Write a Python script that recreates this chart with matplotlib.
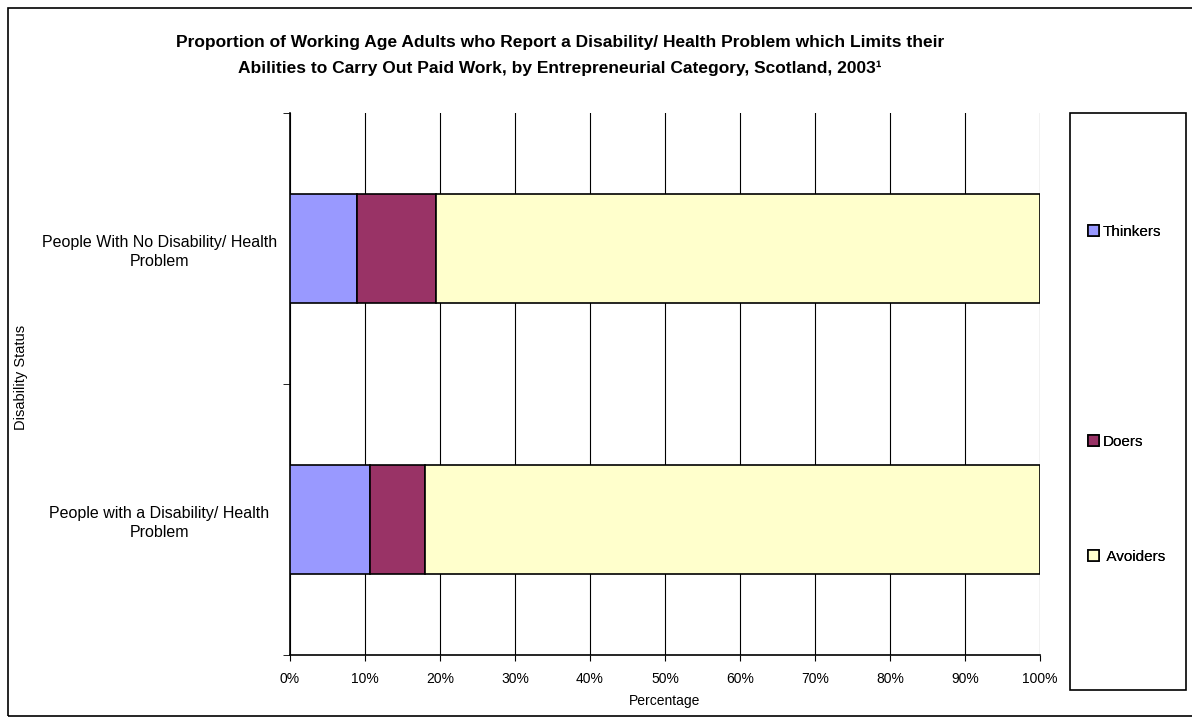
import numpy as np
import matplotlib.pyplot as plt
from matplotlib.patches import Rectangle

plt.rcParams['font.family'] = ['Liberation Sans', 'DejaVu Sans']

# data
categories = ["People With No Disability/ Health\nProblem",
              "People with a Disability/ Health\nProblem"]
series = ["Thinkers", "Doers", "Avoiders"]
thinkers = [8.9, 10.6]
doers = [10.5, 7.4]
avoiders = [80.6, 82.0]
colors = ["#9999FF", "#993366", "#FFFFCC"]

W, H = 1192, 724
fig = plt.figure(figsize=(W / 100, H / 100), dpi=100)

# outer chart border
fig.patches.append(Rectangle((8 / W, 1 - 716 / H), 1.2, (716 - 8) / H,
                             transform=fig.transFigure, fill=False,
                             edgecolor="black", linewidth=1.2))

ax = fig.add_axes([290 / W, 1 - 655 / H, 750 / W, 542 / H])

y = np.arange(len(categories))
left = np.zeros(len(categories))
handles = []
for vals, name, col in zip([thinkers, doers, avoiders], series, colors):
    b = ax.barh(y, vals, left=left, height=0.4, color=col,
                edgecolor="black", linewidth=1.2, label=name, zorder=3)
    handles.append(b)
    left = left + np.array(vals)

ax.set_xlim(0, 100)
ax.set_ylim(1.5, -0.5)
ax.set_xticks(np.arange(0, 101, 10))
ax.set_xticklabels([f"{v}%" for v in range(0, 101, 10)], fontsize=10)
ax.set_yticks(y)
ax.set_yticklabels(categories, fontsize=11.5, ha="center", linespacing=1.35)
ax.tick_params(axis="y", length=0, pad=94)
ax.set_yticks([-0.5, 0.5, 1.5], minor=True)
ax.tick_params(axis="y", which="minor", length=5, direction="out")
ax.tick_params(axis="x", length=4, direction="out", pad=8)
ax.grid(axis="x", color="black", linewidth=0.8, zorder=0)
ax.spines["top"].set_visible(False)
ax.spines["right"].set_visible(False)
ax.spines["left"].set_linewidth(1.2)
ax.spines["bottom"].set_linewidth(1.2)
ax.set_xlabel("Percentage", fontsize=10, labelpad=6)
fig.text(21 / W, 1 - 377 / H, "Disability Status", rotation=90,
         ha="center", va="center", fontsize=10.5)

fig.text(560 / W, 1 - 42 / H,
         "Proportion of Working Age Adults who Report a Disability/ Health Problem which Limits their",
         ha="center", va="center", fontsize=12.5, fontweight="bold")
fig.text(560 / W, 1 - 68 / H,
         "Abilities to Carry Out Paid Work, by Entrepreneurial Category, Scotland, 2003\u00b9",
         ha="center", va="center", fontsize=12.5, fontweight="bold")

# legend box
fig.patches.append(Rectangle((1070 / W, 1 - 690 / H), 116 / W, (690 - 113) / H,
                             transform=fig.transFigure, fill=False,
                             edgecolor="black", linewidth=1.2))
leg_y = [232, 442, 557]
leg_labels = ["Thinkers", "Doers", " Avoiders"]
for h, lab, ly in zip(handles, leg_labels, leg_y):
    lg = fig.legend([h], [lab], loc="center left",
                    bbox_to_anchor=(1088 / W, 1 - ly / H), frameon=False,
                    fontsize=11, handlelength=0.75, handleheight=0.75,
                    handletextpad=0.2, borderpad=0, borderaxespad=0)
    fig.add_artist(lg)

fig.savefig("out.png", dpi=100)
